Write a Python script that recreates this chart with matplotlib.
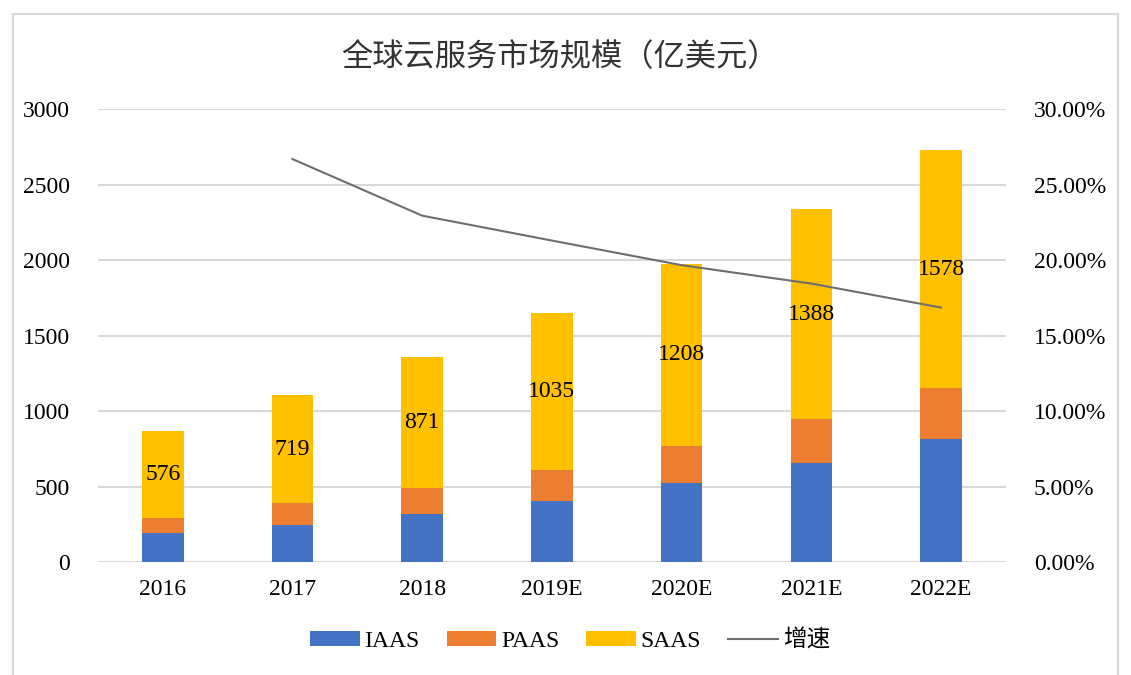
import numpy as np
import matplotlib
matplotlib.use("Agg")
import matplotlib.pyplot as plt
from matplotlib.patches import Rectangle
from matplotlib.ticker import FuncFormatter

years = ["2016", "2017", "2018", "2019E", "2020E", "2021E", "2022E"]
iaas = [194, 247, 320, 406, 522, 657, 816]
paas = [100, 142, 169, 206, 247, 292, 336]
saas = [576, 719, 871, 1035, 1208, 1388, 1578]
growth_years = ["2017", "2018", "2019E", "2020E", "2021E", "2022E"]
growth = [0.267, 0.2295, 0.213, 0.1967, 0.1845, 0.1686]

serif = ["Liberation Serif", "Noto Sans CJK SC"]
plt.rcParams["font.family"] = serif

fig = plt.figure(figsize=(11.31, 6.75), dpi=100)
ax = fig.add_axes([0.0866, 0.1674, 0.8028, 0.6707])

x = np.arange(len(years))
w = 0.32
b1 = ax.bar(x, iaas, w, color="#4472C4", label="IAAS", zorder=3)
b2 = ax.bar(x, paas, w, bottom=iaas, color="#ED7D31", label="PAAS", zorder=3)
bottom2 = np.array(iaas) + np.array(paas)
b3 = ax.bar(x, saas, w, bottom=bottom2, color="#FFC000", label="SAAS", zorder=3)
ax.bar_label(b3, labels=[str(v) for v in saas], label_type="center", fontsize=17)

ax.set_xlim(-0.5, 6.5)
ax.set_ylim(0, 3000)
ax.set_yticks(range(0, 3001, 500))
ax.set_xticks(x)
ax.set_xticklabels(years)
ax.grid(axis="y", color="#D9D9D9", linewidth=1.5, zorder=0)
for s in ax.spines.values():
    s.set_visible(False)
ax.tick_params(axis="both", length=0, labelsize=17, colors="#000000")
ax.tick_params(axis="y", pad=20)
ax.tick_params(axis="x", pad=12)

ax2 = ax.twinx()
gx = [years.index(g) for g in growth_years]
ln, = ax2.plot(gx, growth, color="#6E6E6E", linewidth=1.5, label="增速", zorder=4)
ax2.set_ylim(0, 0.30)
ax2.set_yticks(np.arange(0, 0.301, 0.05))
ax2.yaxis.set_major_formatter(FuncFormatter(lambda v, p: f"{v*100:.2f}%"))
for s in ax2.spines.values():
    s.set_visible(False)
ax2.tick_params(axis="y", length=0, labelsize=17, pad=20)

fig.text(0.495, 0.916, "全球云服务市场规模（亿美元）", ha="center", va="center",
         fontsize=22.5, family=["Noto Sans CJK SC"], weight="light", color="#333333")

leg = fig.legend([b1, b2, b3, ln], ["IAAS", "PAAS", "SAAS", "增速"],
                 loc="center", bbox_to_anchor=(0.504, 0.051), ncol=4, frameon=False,
                 prop={"family": serif, "size": 17}, handlelength=2.1,
                 handleheight=0.6, columnspacing=1.15, handletextpad=0.2)

fig.patches.append(Rectangle((13 / 1131, -0.01), (1118 - 13) / 1131, 1 - 14 / 675 + 0.01,
                             transform=fig.transFigure, fill=False,
                             edgecolor="#D9D9D9", linewidth=1.5))

fig.savefig("out.png", dpi=100)
